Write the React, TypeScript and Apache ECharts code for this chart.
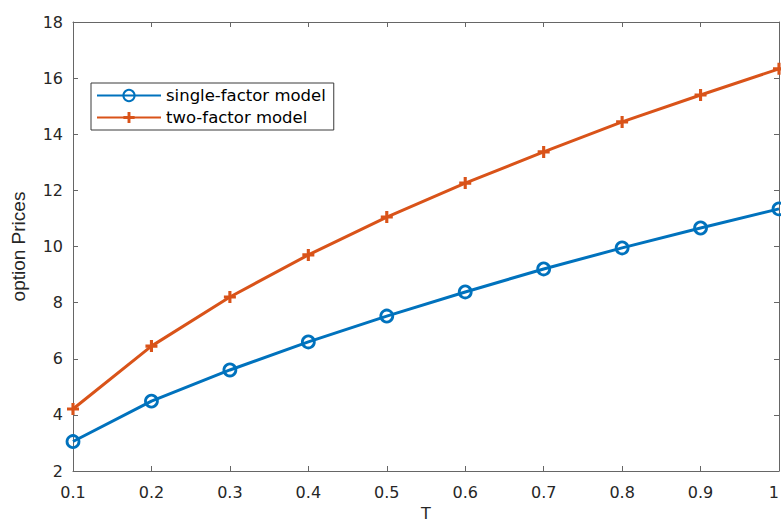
import React, { useEffect, useRef } from "react";
import * as echarts from "echarts";

const tValues = ["0.1", "0.2", "0.3", "0.4", "0.5", "0.6", "0.7", "0.8", "0.9", "1"];
const tNums = [0.1, 0.2, 0.3, 0.4, 0.5, 0.6, 0.7, 0.8, 0.9, 1.0];
const singleFactor = [3.05, 4.49, 5.6, 6.6, 7.52, 8.38, 9.2, 9.95, 10.66, 11.34];
const twoFactor = [4.21, 6.45, 8.2, 9.7, 11.05, 12.26, 13.37, 14.44, 15.4, 16.33];
const seriesNames = ["single-factor model", "two-factor model"];

const PLUS =
  "path://M-2.6,-10 L2.6,-10 L2.6,-2.6 L10,-2.6 L10,2.6 L2.6,2.6 L2.6,10 L-2.6,10 L-2.6,2.6 L-10,2.6 L-10,-2.6 L-2.6,-2.6 Z";

export default function App() {
  const ref = useRef<HTMLDivElement>(null);
  useEffect(() => {
    if (!ref.current) return;
    const chart = echarts.init(ref.current, undefined, { renderer: "svg" });
    const font = "DejaVu Sans, sans-serif";
    const nameFont = "Liberation Sans, Arial, sans-serif";
    const axisColor = "#666666";
    const labelColor = "#262626";
    const xLabels = (v: number) => {
      const i = tNums.findIndex((t) => Math.abs(t - v) < 1e-6);
      return i >= 0 ? tValues[i] : "";
    };
    chart.setOption({
      animation: false,
      backgroundColor: "#ffffff",
      grid: { left: 73, right: 2, top: 22, bottom: 51, show: false, containLabel: false, outerBoundsMode: "none" },
      legend: {
        show: true,
        left: 91,
        top: 83,
        orient: "vertical",
        itemWidth: 64,
        itemHeight: 14,
        itemGap: 5,
        padding: [4, 8, 4, 5],
        borderColor: "#3a3a3a",
        borderWidth: 1,
        backgroundColor: "#ffffff",
        textStyle: { fontFamily: font, fontSize: 16.5, color: "#000" },
        data: seriesNames,
      },
      xAxis: [
        {
          type: "value",
          min: 0.1,
          max: 1,
          interval: 0.1,
          name: "T",
          nameLocation: "middle",
          nameGap: 34,
          nameTextStyle: { fontFamily: font, fontSize: 16, color: labelColor },
          axisLine: { show: true, lineStyle: { color: axisColor, width: 1 } },
          axisTick: { show: true, inside: true, length: 5, lineStyle: { color: axisColor } },
          axisLabel: {
            fontFamily: font,
            fontSize: 16,
            color: labelColor,
            margin: 13,
            alignMaxLabel: "right",
            formatter: xLabels,
          },
          splitLine: { show: false },
        },
        {
          type: "value",
          position: "top",
          min: 0.1,
          max: 1,
          interval: 0.1,
          axisLine: { show: true, lineStyle: { color: axisColor, width: 1 } },
          axisTick: { show: true, inside: true, length: 5, lineStyle: { color: axisColor } },
          axisLabel: { show: false },
          splitLine: { show: false },
        },
      ],
      yAxis: [
        {
          type: "value",
          min: 2,
          max: 18,
          interval: 2,
          name: "option Prices",
          nameLocation: "middle",
          nameGap: 45,
          nameRotate: 90,
          nameTextStyle: { fontFamily: nameFont, fontSize: 19, color: labelColor },
          axisLine: { show: true, lineStyle: { color: axisColor, width: 1 } },
          axisTick: { show: true, inside: true, length: 5, lineStyle: { color: axisColor } },
          axisLabel: { fontFamily: font, fontSize: 16, color: labelColor, margin: 10 },
          splitLine: { show: false },
        },
        {
          type: "value",
          position: "right",
          min: 2,
          max: 18,
          interval: 2,
          axisLine: { show: true, lineStyle: { color: axisColor, width: 1 } },
          axisTick: { show: true, inside: true, length: 5, lineStyle: { color: axisColor } },
          axisLabel: { show: false },
          splitLine: { show: false },
        },
      ],
      series: [
        {
          name: seriesNames[0],
          type: "line",
          xAxisIndex: 0,
          yAxisIndex: 0,
          clip: false,
          data: tNums.map((t, i) => [t, singleFactor[i]]),
          symbol: "circle",
          symbolSize: 12,
          showAllSymbol: true,
          color: "#0072BD",
          lineStyle: { color: "#0072BD", width: 3 },
          itemStyle: { color: "rgba(0,0,0,0)", borderColor: "#0072BD", borderWidth: 2.8 },
          z: 3,
        },
        {
          name: seriesNames[1],
          type: "line",
          xAxisIndex: 0,
          yAxisIndex: 0,
          clip: false,
          data: tNums.map((t, i) => [t, twoFactor[i]]),
          symbol: PLUS,
          symbolSize: 12,
          showAllSymbol: true,
          color: "#D95319",
          lineStyle: { color: "#D95319", width: 3 },
          itemStyle: { color: "#D95319", borderWidth: 0 },
          z: 3,
        },
      ],
    });
    return () => chart.dispose();
  }, []);
  return <div ref={ref} style={{ width: 781, height: 522, position: "absolute", left: 0, top: 0 }} />;
}
